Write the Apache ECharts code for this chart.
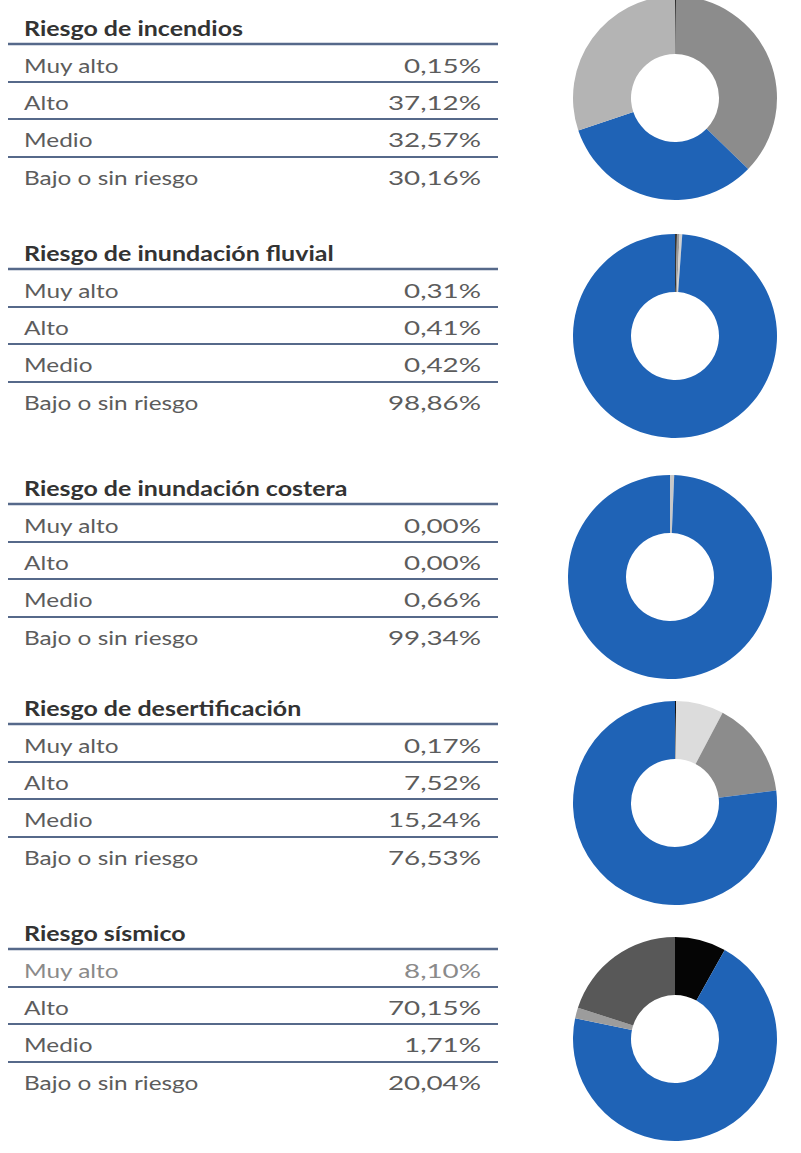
<!DOCTYPE html>
<html>
<head>
<meta charset="utf-8">
<script src="https://cdn.jsdelivr.net/npm/echarts@6/dist/echarts.min.js"></script>
<style>
html,body{margin:0;padding:0;background:#fff;}
#chart{width:801px;height:1153px;}
</style>
</head>
<body>
<div id="chart"></div>
<script>
// ---- data ----
const titles = ['Riesgo de incendios', 'Riesgo de inundación fluvial', 'Riesgo de inundación costera', 'Riesgo de desertificación', 'Riesgo sísmico'];
const levels = ['Muy alto', 'Alto', 'Medio', 'Bajo o sin riesgo'];
const incendios = [0.15, 37.12, 32.57, 30.16];
const fluvial = [0.31, 0.41, 0.42, 98.86];
const costera = [0.00, 0.00, 0.66, 99.34];
const desertificacion = [0.17, 7.52, 15.24, 76.53];
const sismico = [8.10, 70.15, 1.71, 20.04];
const allValues = [incendios, fluvial, costera, desertificacion, sismico];

// ---- style / layout ----
const BLUE = '#1f63b6';
const sliceColors = [
  ['#111111', '#8c8c8c', BLUE, '#b4b4b4'],
  ['#333333', '#9a9a9a', '#d0d0d0', BLUE],
  ['#333333', '#9a9a9a', '#c8c8c8', BLUE],
  ['#111111', '#dcdcdc', '#8c8c8c', BLUE],
  ['#050505', BLUE, '#9c9c9c', '#585858']
];
const sectionTop = [28, 253, 488, 708, 933];
const pieCenters = [[675, 98], [675, 336], [670, 577], [675, 803], [675, 1039]];
const LINE = '#56698a';
const FONT = 'Lato, "Open Sans", sans-serif';

function fmt(v) { return v.toFixed(2).replace('.', ',') + '%'; }

const graphics = [];
const series = [];
allValues.forEach(function (vals, s) {
  const T = sectionTop[s];
  graphics.push({
    type: 'text', x: 24, y: T, scaleX: 1.25,
    style: { text: titles[s], font: 'bold 20px ' + FONT, fill: '#333333', textVerticalAlign: 'middle', textAlign: 'left' }
  });
  graphics.push({
    type: 'line', shape: { x1: 8, y1: T + 16, x2: 498, y2: T + 16 },
    style: { stroke: LINE, lineWidth: 2.5 }
  });
  const rowY = [T + 37, T + 74, T + 111, T + 149];
  const lineY = [T + 54, T + 91, T + 129];
  levels.forEach(function (lv, i) {
    const col = (s === 4 && i === 0) ? '#8a8a8a' : '#5c5c5c';
    graphics.push({
      type: 'text', x: 24, y: rowY[i], scaleX: 1.22,
      style: { text: lv, font: '20px ' + FONT, fill: col, textVerticalAlign: 'middle', textAlign: 'left' }
    });
    graphics.push({
      type: 'text', x: 481, y: rowY[i], scaleX: 1.39,
      style: { text: fmt(vals[i]), font: '20px ' + FONT, fill: col, textVerticalAlign: 'middle', textAlign: 'right' }
    });
  });
  lineY.forEach(function (y) {
    graphics.push({
      type: 'line', shape: { x1: 8, y1: y, x2: 498, y2: y },
      style: { stroke: LINE, lineWidth: 2 }
    });
  });
  series.push({
    type: 'pie',
    center: pieCenters[s],
    radius: [44, 102],
    startAngle: 90,
    clockwise: true,
    silent: true,
    animation: false,
    label: { show: false },
    labelLine: { show: false },
    itemStyle: { borderWidth: 0 },
    data: vals.map(function (v, i) {
      return { name: levels[i], value: v, itemStyle: { color: sliceColors[s][i] } };
    })
  });
});

const chart = echarts.init(document.getElementById('chart'), null, { renderer: 'svg' });
chart.setOption({
  backgroundColor: '#ffffff',
  animation: false,
  graphic: graphics,
  series: series
});
</script>
</body>
</html>
